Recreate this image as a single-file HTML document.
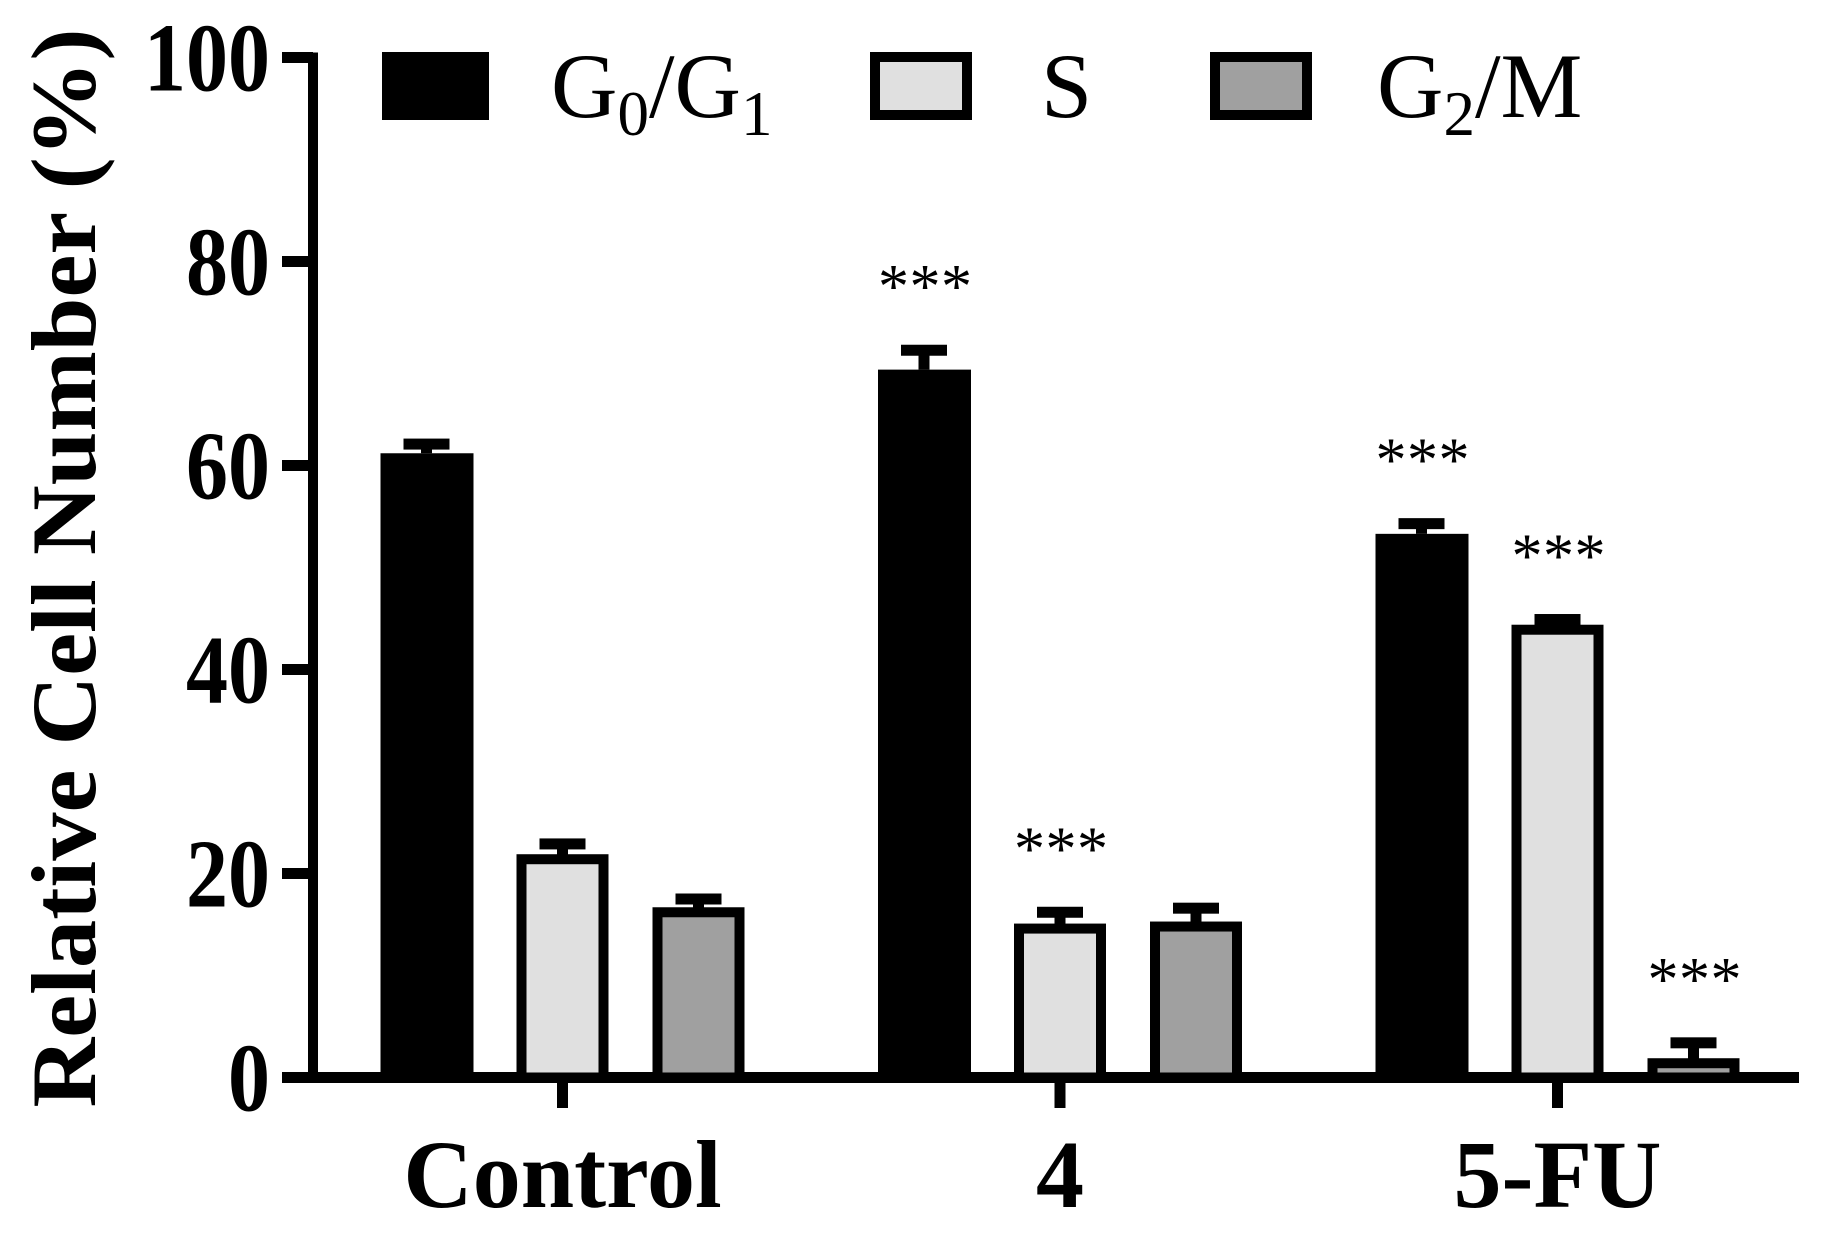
<!DOCTYPE html>
<html><head><meta charset="utf-8"><style>
html,body{margin:0;padding:0;background:#fff;}
svg{display:block;}
text{font-family:"Liberation Serif",serif;fill:#000;}
</style></head><body>
<svg id="chart" width="1837" height="1238" viewBox="0 0 1837 1238" xmlns="http://www.w3.org/2000/svg">
<g id="axes"></g>
<g id="bars"></g>
<g id="legend">
  <rect x="382" y="52" width="107" height="68" fill="#000"/>
  <text x="551" y="117" font-size="92">G<tspan font-size="63" dy="18">0</tspan><tspan dy="-18">/G</tspan><tspan font-size="63" dy="18">1</tspan></text>
  <rect x="875" y="57" width="92" height="58" fill="#e0e0e0" stroke="#000" stroke-width="10"/>
  <text x="1041" y="117" font-size="92">S</text>
  <rect x="1215" y="57" width="92" height="58" fill="#a0a0a0" stroke="#000" stroke-width="10"/>
  <text x="1377" y="117" font-size="92">G<tspan font-size="63" dy="18">2</tspan><tspan dy="-18">/M</tspan></text>
</g>
<text transform="translate(95,568) rotate(-90)" text-anchor="middle" font-size="92" font-weight="bold" textLength="1079" lengthAdjust="spacingAndGlyphs">Relative Cell Number (%)</text>
</svg>
<script>
const categories = ["Control", "4", "5-FU"];
const series = ["G0/G1", "S", "G2/M"];
const g0g1Values = [61.2, 69.4, 53.3];
const g0g1Errors = [0.9, 1.9, 1.0];
const sValues = [21.4, 14.6, 43.9];
const sErrors = [1.5, 1.6, 1.0];
const g2mValues = [16.2, 14.8, 1.4];
const g2mErrors = [1.3, 1.8, 2.0];
const g0g1Sig = ["", "***", "***"];
const sSig = ["", "***", "***"];
const g2mSig = ["", "", "***"];
const yTicks = [0, 20, 40, 60, 80, 100];

const NS = "http://www.w3.org/2000/svg";
const Y0 = 1077.5, Y100 = 57.5;
function y(v){ return Y0 - (Y0 - Y100) * v / 100; }
const groupCenter0 = 562.5, groupStep = 497.5, barStep = 136, barW = 92;
function gx(i){ return groupCenter0 + i * groupStep; }
function bx(i, s){ return gx(i) + (s - 1) * barStep; }

function mk(tag, attrs, parent){
  const el = document.createElementNS(NS, tag);
  for (const k in attrs) el.setAttribute(k, attrs[k]);
  parent.appendChild(el);
  return el;
}
const axes = document.getElementById("axes");
const bars = document.getElementById("bars");

let el = mk("line", {x1:313, y1:y(100)-5, x2:313, y2:Y0, stroke:"#000", "stroke-width":10}, axes);


yTicks.forEach(t => {
  const tk = mk("line", {x1:282, y1:y(t), x2:313, y2:y(t), stroke:"#000", "stroke-width":11}, axes);
  
  
  const w = String(t).length * 42;
  const lb = mk("text", {x:270 - w, y:y(t)+33, "font-size":98, "font-weight":"bold", textLength:w, lengthAdjust:"spacingAndGlyphs"}, axes);
  lb.textContent = String(t);
  
  
});
el = mk("line", {x1:282, y1:Y0, x2:1799, y2:Y0, stroke:"#000", "stroke-width":11}, axes);


categories.forEach((c, i) => {
  const tk = mk("line", {x1:gx(i), y1:Y0, x2:gx(i), y2:1108, stroke:"#000", "stroke-width":11}, axes);
  
  
  const lb = mk("text", {x:gx(i), y:1207, "text-anchor":"middle", "font-size":96, "font-weight":"bold"}, axes);
  lb.textContent = c;
  
  
});

const allVals = [g0g1Values, sValues, g2mValues];
const allErrs = [g0g1Errors, sErrors, g2mErrors];
const allSig = [g0g1Sig, sSig, g2mSig];
const fills = ["#000", "#e0e0e0", "#a0a0a0"];
categories.forEach((c, i) => {
  for (let s = 0; s < 3; s++) {
    const v = allVals[s][i], e = allErrs[s][i], cx = bx(i, s);
    const top = y(v + e);
    const stem = mk("rect", {x:cx-5.5, y:top, width:11, height:y(v)-top, fill:"#000"}, bars);
    
    
    const cap = mk("rect", {x:cx-23, y:top-5.5, width:46, height:11, fill:"#000"}, bars);
    
    
    let b;
    if (s === 0) {
      b = mk("rect", {x:cx-barW/2, y:y(v), width:barW+1, height:Y0-y(v), fill:"#000"}, bars);
    } else {
      b = mk("rect", {x:cx-barW/2+5, y:y(v), width:barW-10, height:Y0-y(v), fill:fills[s], stroke:"#000", "stroke-width":10}, bars);
    }
    
    
    if (allSig[s][i]) {
      const st = mk("text", {x:cx-46, y:top-43, "font-size":62, textLength:94, lengthAdjust:"spacing"}, bars);
      st.textContent = allSig[s][i];
      
      
    }
  }
});
</script>
</body></html>
